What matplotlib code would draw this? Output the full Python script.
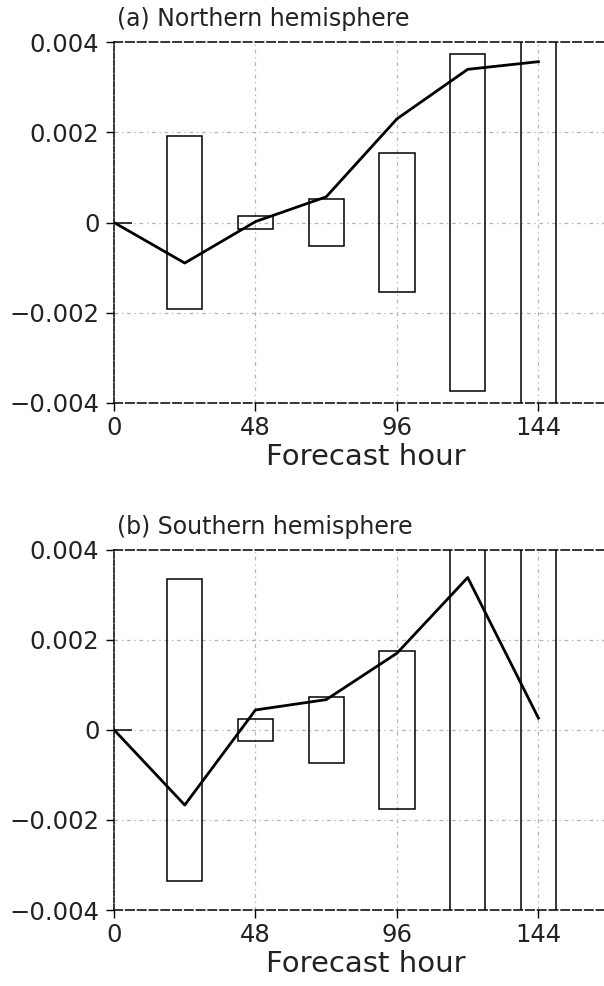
import matplotlib.pyplot as plt
from matplotlib.patches import Rectangle

# forecast hours and verification statistics
hours = [0, 24, 48, 72, 96, 120, 144]
nh_mean = [0.0, -0.0009, 0.00002, 0.00057, 0.0023, 0.0034, 0.00357]
nh_conf = [0.0, 0.00192, 0.00014, 0.00052, 0.00154, 0.00375, 0.0052]
sh_mean = [0.0, -0.00167, 0.00044, 0.00067, 0.0017, 0.00338, 0.00026]
sh_conf = [0.0, 0.00335, 0.00024, 0.00073, 0.00176, 0.0049, 0.0053]

xticks = [0, 48, 96, 144]
yticks = [-0.004, -0.002, 0, 0.002, 0.004]
ytick_labels = ['\u22120.004', '\u22120.002', '0', '0.002', '0.004']
titles = ['(a) Northern hemisphere', '(b) Southern hemisphere']

box_width = 12

W, H = 604, 986
fig = plt.figure(figsize=(W / 100, H / 100), dpi=100)


def draw_panel(rect, mean, conf, title):
    ax = fig.add_axes(rect)
    ax.set_xlim(0, 171)
    ax.set_ylim(-0.004, 0.004)

    # light gray dash-dot grid
    for x in xticks[1:]:
        ax.axvline(x, color='#b4b4b4', lw=0.9, ls=(0, (3, 3, 1, 3)), zorder=1)
    for y in yticks[1:-1]:
        ax.axhline(y, color='#b4b4b4', lw=0.9, ls=(0, (3, 3, 1, 3)), zorder=1)

    # confidence boxes
    for h, c in zip(hours, conf):
        ax.add_patch(Rectangle((h - box_width / 2, -c), box_width, 2 * c,
                               fill=False, edgecolor='black', lw=1.1, zorder=2))

    ax.plot(hours, mean, color='black', lw=2.0, zorder=3)

    for side in ['top', 'bottom']:
        ax.spines[side].set_linestyle((0, (5.5, 2.2)))
        ax.spines[side].set_linewidth(1.1)
    ax.spines['left'].set_linestyle((0, (3.5, 1.2)))
    ax.spines['left'].set_linewidth(1.1)
    ax.spines['right'].set_visible(False)

    ax.set_xticks(xticks)
    ax.set_yticks(yticks)
    ax.set_yticklabels(ytick_labels)
    ax.tick_params(direction='out', length=5.5, width=1, labelsize=17.5,
                   labelcolor='#222222')
    ax.tick_params(axis='x', pad=4)
    ax.tick_params(axis='y', pad=5)
    ax.set_xlabel('Forecast hour', fontsize=21, labelpad=2, color='#222222')
    ax.text(0.005, 1.03, title, transform=ax.transAxes, fontsize=17,
            ha='left', va='bottom', color='#222222')
    return ax


left = 114 / W
width = (618 - 114) / W
height = (402.7 - 42.3) / H
draw_panel([left, 1 - 402.7 / H, width, height], nh_mean, nh_conf, titles[0])
draw_panel([left, 1 - 910 / H, width, height], sh_mean, sh_conf, titles[1])

fig.savefig('out.png', dpi=100)
